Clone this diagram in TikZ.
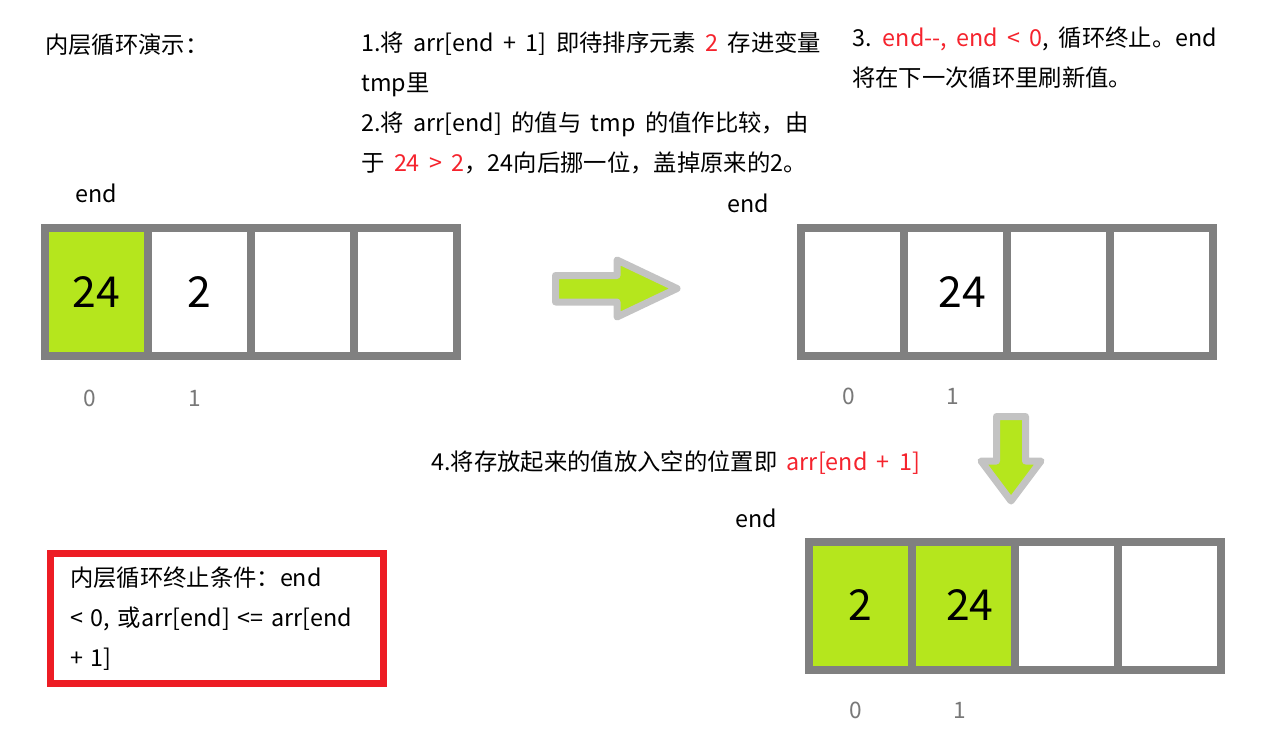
\documentclass[tikz,border=0pt]{standalone}
\usepackage{fontspec}
\setmainfont{Noto Sans CJK SC}[WordSpace=1.8]
\usepackage{xcolor}
\usepackage{tikz}
\usetikzlibrary{positioning}
\definecolor{cellgray}{RGB}{128,128,128}
\definecolor{cellgreen}{RGB}{181,230,29}
\definecolor{arrowgray}{RGB}{195,195,195}
\definecolor{boxred}{RGB}{237,28,36}
\definecolor{textred}{RGB}{245,35,45}
\definecolor{idxgray}{RGB}{120,120,120}
\tikzset{>=latex}
\tikzset{arr-cell/.style={draw=cellgray, line width=6pt, inner sep=0, outer sep=0, minimum width=77.25pt, minimum height=96pt, fill=white, font=\fontsize{32}{36}\selectfont}}
\tikzset{arr-cell-set/.style={arr-cell, fill=cellgreen}}
\tikzset{note-text/.style={align=left, inner sep=0, anchor=west, font=\fontsize{17.5}{30}\selectfont}}
\tikzset{end-label/.style={inner sep=0, font=\fontsize{17.5}{20}\selectfont}}
\tikzset{idx-label/.style={inner sep=0, text=idxgray, font=\fontsize{17}{20}\selectfont}}
\tikzset{move-arrow/.style={draw=arrowgray, fill=cellgreen, line width=5.25pt, line join=round}}
\tikzset{cond-box/.style={draw=boxred, line width=5.25pt, minimum width=249.75pt, minimum height=97.5pt, align=left, inner xsep=14.6pt, inner ysep=0, text width=220.5pt, font=\fontsize{17.5}{30}\selectfont}}

\begin{document}
\begin{tikzpicture}[x=0.75pt, y=-0.75pt]
            \useasboundingbox (0,0) rectangle (1276,734);

            % texts
            \node[note-text] (title) at (45,45) {内层循环演示：};
            \node[note-text] (step1) at (361,103) {1.将 arr[end + 1] 即待排序元素 \textcolor{textred}{2} 存进变量\\
                tmp里\\
                2.将 arr[end] 的值与 tmp 的值作比较，由\\
                于 \textcolor{textred}{24 > 2}，24向后挪一位，盖掉原来的2。};
            \node[note-text] (step3) at (852,58) {3. \textcolor{textred}{end-{}-, end < 0}, 循环终止。end\\
                将在下一次循环里刷新值。};
            \node[note-text] (step4) at (431,463) {4.将存放起来的值放入空的位置即 \textcolor{textred}{arr[end + 1]}};

            \node[cond-box] (cond) at (217,618.5) {内层循环终止条件：end\\< 0, 或arr[end] <= arr[end\\+ 1]};

            % array before
            \node[arr-cell-set] (a1c0) at (96.5,292) {24};
            \node[arr-cell, right=0pt of a1c0] (a1c1) {2};
            \node[arr-cell, right=0pt of a1c1] (a1c2) {};
            \node[arr-cell, right=0pt of a1c2] (a1c3) {};

            \node[end-label] (end1) at (96,193) {end};
            \node[idx-label] (i1a) at (90,398) {0};
            \node[idx-label] (i1b) at (195,398) {1};

            % array after move
            \node[arr-cell] (a2c0) at (852.5,292) {};
            \node[arr-cell, right=0pt of a2c0] (a2c1) {\hspace{10pt}24};
            \node[arr-cell, right=0pt of a2c1] (a2c2) {};
            \node[arr-cell, right=0pt of a2c2] (a2c3) {};

            \node[end-label] (end2) at (748,203) {end};
            \node[idx-label] (i2a) at (849,396) {0};
            \node[idx-label] (i2b) at (953,396) {1};

            % array after insert
            \node[arr-cell-set] (a3c0) at (860,605.5) {2};
            \node[arr-cell-set, right=0pt of a3c0] (a3c1) {\hspace{10pt}24};
            \node[arr-cell, right=0pt of a3c1] (a3c2) {};
            \node[arr-cell, right=0pt of a3c2] (a3c3) {};

            \node[end-label] (end3) at (756,518) {end};
            \node[idx-label] (i3a) at (856,710) {0};
            \node[idx-label] (i3b) at (960,710) {1};

            % big arrows
            \draw[move-arrow] (555.5,275.5) -- (617,275.5) -- (617,260) -- (677,288.5) -- (617,317) -- (617,302) -- (555.5,302) -- cycle;
            \draw[move-arrow] (996.5,416.5) -- (1025.5,416.5) -- (1025.5,461) -- (1041,461) -- (1011,501) -- (981,461) -- (996.5,461) -- cycle;
        \end{tikzpicture}
\end{document}
